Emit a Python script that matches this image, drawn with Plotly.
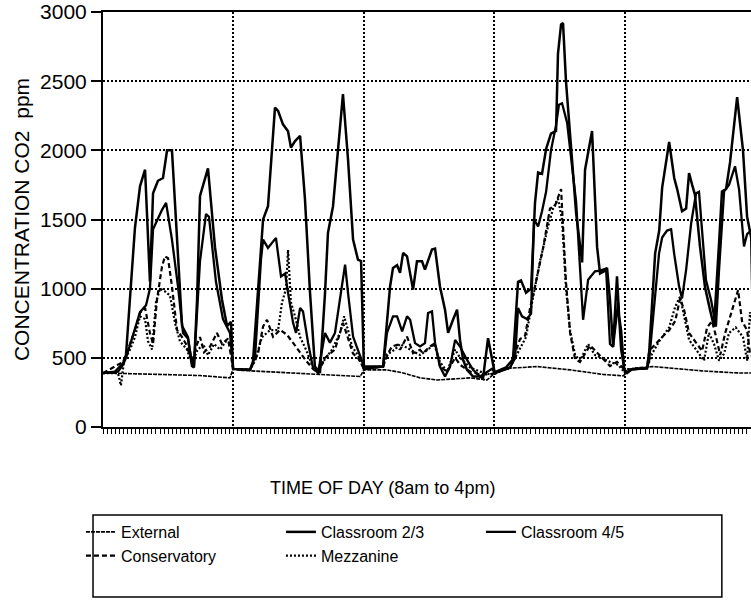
import plotly.graph_objects as go

# ---- data: time in hours from start (five school days, 8 hours each), CO2 ppm ----
EXT_T = [0.00, 1.66, 3.50, 5.95, 7.79, 7.98, 8.40, 10.25, 12.09, 13.92, 15.77, 16.01,
         17.42, 18.41, 19.45, 20.49, 21.29, 22.52, 23.56, 24.05, 24.97, 26.63, 28.65,
         30.67, 31.90, 32.51, 33.74, 34.79, 36.81, 38.90, 39.88]
EXT_V = [391, 385, 380, 372, 355, 420, 410, 400, 390, 375, 365, 413,
         413, 391, 355, 340, 345, 355, 340, 390, 425, 437, 413,
         380, 370, 425, 437, 425, 405, 391, 390]

C23_T = [0.00, 0.74, 1.23, 1.41, 1.96, 2.27, 2.58, 2.88, 3.07, 3.37, 3.68, 3.93, 4.23, 4.54,
         4.85, 5.21, 5.46, 5.58, 5.77, 5.95, 6.26, 6.44, 6.87, 7.30, 7.61, 7.85, 7.98,
         9.02, 9.20, 9.51, 9.82, 10.12, 10.31, 10.55, 10.74, 11.04, 11.35, 11.53, 11.78, 12.09,
         12.39, 12.70, 13.00, 13.31, 13.62, 13.80, 14.11, 14.42, 14.72, 15.03, 15.34, 15.64, 15.83, 16.01,
         16.07, 17.18, 17.61, 17.79, 18.04, 18.22, 18.41, 18.65, 19.02, 19.26, 19.57, 19.75, 20.18,
         20.37, 20.67, 20.98, 21.17, 21.47, 21.72, 21.90, 22.09, 22.33, 22.70, 23.13, 23.31, 23.62, 23.86, 24.05,
         24.11, 24.72, 25.15, 25.46, 25.64, 25.95, 26.26, 26.50, 26.69, 26.93, 27.18, 27.48, 27.79,
         27.91, 28.10, 28.22, 28.40, 28.71, 29.02, 29.39, 29.57, 30.00, 30.31, 30.49, 30.80, 30.92,
         31.10, 31.29, 31.53, 31.66, 31.78, 31.96,
         32.15, 32.45, 33.37, 33.50, 33.68, 33.87, 34.12, 34.30, 34.73, 35.04, 35.22, 35.52, 35.77,
         35.95, 36.14, 36.31, 36.62, 36.93, 37.24, 37.48, 37.79, 37.97, 38.22, 38.46, 38.90, 39.26,
         39.51, 39.69, 39.88]
C23_V = [390, 400, 460, 520, 1440, 1740, 1860, 1050, 1690, 1780, 1800, 2000, 2000, 1350,
         730, 650, 440, 430, 920, 1670, 1810, 1870, 1300, 920, 730, 760, 420,
         413, 473, 970, 1500, 1596, 1935, 2309, 2285, 2188, 2138, 2019, 2067, 2104,
         1645, 970, 437, 391, 970, 1404, 1596, 2007, 2406, 1935, 1355, 1210, 1200, 413,
         437, 437, 1016, 1150, 1170, 1114, 1259, 1234, 993, 1198, 1198, 1138, 1283,
         1290, 1016, 848, 680, 775, 848, 630, 485, 413, 365, 365, 350, 642, 485, 380,
         400, 430, 490, 1050, 1060, 970, 1000, 1620, 1840, 1830, 2010, 2120, 2140,
         2700, 2910, 2920, 2500, 2000, 1550, 1190, 1860, 2140, 1300, 1110, 1130, 1150,
         920, 580, 1090, 800, 700, 420,
         390, 417, 425, 530, 845, 1255, 1420, 1730, 2060, 1800, 1720, 1560, 1580,
         1836, 1750, 1680, 1305, 1010, 845, 726, 1329, 1703, 1720, 1909, 2385, 2000,
         1520, 1400, 1300]

C45_T = [0.00, 0.92, 1.23, 1.41, 1.66, 1.96, 2.27, 2.64, 2.88, 3.07, 3.62, 3.87, 4.23,
         4.60, 4.91, 5.21, 5.46, 5.58, 5.95, 6.32, 6.50, 6.93, 7.36, 7.79, 7.98,
         9.02, 9.33, 9.69, 9.82, 10.12, 10.61, 10.92, 11.17, 11.35, 11.66, 11.84, 12.09, 12.27,
         12.58, 12.88, 13.19, 13.62, 13.92, 14.23, 14.54, 14.85, 15.03, 15.34, 15.64, 15.95, 16.07,
         17.18, 17.42, 17.79, 18.04, 18.35, 18.65, 18.84, 19.14, 19.45, 19.75, 19.94, 20.18,
         20.37, 20.67, 20.98, 21.29, 21.60, 21.90, 22.33, 22.70, 23.13, 23.56, 23.86, 24.05,
         24.97, 25.28, 25.46, 25.70, 26.01, 26.26, 26.44, 26.69, 26.93, 27.18, 27.48, 27.79, 27.97,
         28.16, 28.47, 29.02, 29.45, 29.76, 30.18, 30.49, 30.86, 31.10, 31.29, 31.60, 31.78, 32.02,
         32.45, 33.37, 33.50, 34.11, 34.30, 34.60, 34.85, 35.04, 35.34, 35.52, 35.77, 36.08, 36.38,
         36.56, 36.75, 36.99, 37.30, 37.60, 37.79, 38.10, 38.40, 38.77, 39.02, 39.32, 39.51, 39.75, 39.88]
C45_V = [390, 400, 450, 500, 594, 703, 830, 880, 1000, 1430, 1570, 1620, 1355,
         1016, 680, 640, 460, 440, 1200, 1540, 1520, 1050, 780, 680, 420,
         413, 509, 1210, 1355, 1295, 1367, 1089, 1110, 970, 753, 680, 860, 835,
         608, 428, 391, 680, 610, 680, 920, 1174, 970, 654, 556, 460, 420,
         437, 680, 800, 800, 691, 800, 775, 606, 582, 606, 824, 836,
         606, 437, 365, 437, 630, 582, 485, 413, 365, 400, 420, 390,
         430, 500, 860, 800, 780, 820, 1500, 1450, 1560, 1700, 2000, 2180, 2330,
         2340, 2200, 1630, 775, 1065, 1125, 1130, 1145, 600, 580, 900, 560, 390,
         417, 425, 480, 1255, 1370, 1420, 1430, 1250, 1015, 930, 1136, 1474, 1690,
         1700, 1420, 1060, 918, 726, 1136, 1703, 1750, 1885, 1716, 1305, 1395, 1420, 600]

CONS_T = [0.00, 1.23, 1.53, 1.96, 2.27, 2.58, 2.88, 3.07, 3.31, 3.62, 3.80, 3.99, 4.23,
          4.54, 4.85, 5.09, 5.46, 5.77, 5.95, 6.20, 6.56, 6.99, 7.30, 7.67, 7.98,
          9.02, 9.51, 9.82, 10.06, 10.43, 10.86, 11.29, 11.66, 12.09, 12.45, 12.88, 13.19,
          13.62, 14.23, 14.72, 15.03, 15.34, 15.64, 16.01,
          17.18, 17.49, 17.73, 18.04, 18.22, 18.65, 19.02, 19.45, 19.63, 20.06, 20.37, 20.67,
          21.11, 21.60, 21.90, 22.52, 23.13, 23.74, 24.05,
          24.97, 25.15, 25.58, 25.89, 26.20, 26.56, 26.99, 27.42, 27.73, 28.10, 28.22, 28.40,
          28.65, 28.96, 29.26, 29.88, 30.25, 30.67, 31.10, 31.53, 31.96,
          32.45, 33.37, 33.50, 33.87, 34.30, 34.73, 35.10, 35.40, 35.65, 35.95, 36.26, 36.75,
          37.06, 37.36, 37.55, 37.86, 38.17, 38.46, 38.96, 39.20, 39.51, 39.69, 39.88]
CONS_V = [390, 470, 560, 700, 826, 860, 680, 600, 920, 1160, 1234, 1220, 1016,
          703, 650, 600, 470, 600, 650, 540, 580, 680, 600, 640, 420,
          413, 530, 727, 775, 652, 703, 666, 608, 536, 480, 420, 391,
          500, 560, 753, 640, 530, 500, 420,
          437, 534, 582, 594, 558, 654, 534, 558, 534, 582, 606, 437,
          400, 500, 450, 400, 380, 380, 390,
          430, 490, 635, 660, 860, 1050, 1290, 1580, 1600, 1720, 1410, 1050,
          682, 490, 470, 590, 545, 490, 440, 470, 420,
          417, 425, 550, 600, 650, 700, 765, 930, 845, 680, 630, 550,
          720, 765, 680, 520, 680, 790, 990, 765, 700, 530, 500]

MEZZ_T = [0.00, 0.92, 1.10, 1.29, 1.66, 1.96, 2.27, 2.58, 2.76, 3.01, 3.25, 3.50, 3.80,
          4.11, 4.42, 4.72, 5.15, 5.46, 5.77, 6.14, 6.44, 6.81, 7.18, 7.55, 7.85, 7.98,
          9.02, 9.33, 9.75, 10.25, 10.74, 10.98, 11.23, 11.35, 11.53, 11.78, 12.09, 12.45,
          12.82, 13.19, 13.56, 14.05, 14.54, 14.79, 15.03, 15.28, 15.64, 15.95,
          17.18, 17.36, 17.91, 18.22, 18.84, 19.45, 19.94, 20.31, 20.67, 21.11, 21.60, 21.90,
          22.52, 23.13, 23.74, 24.05,
          24.97, 25.15, 25.58, 25.95, 26.32, 26.81, 27.30, 27.61, 27.91, 28.16, 28.40, 28.65,
          28.96, 29.26, 29.76, 30.18, 30.61, 31.10, 31.60, 31.96,
          32.45, 33.37, 33.68, 34.12, 34.73, 35.10, 35.40, 35.95, 36.56, 36.87, 37.17, 37.48,
          37.79, 38.10, 38.40, 38.81, 39.26, 39.51, 39.69, 39.88]
MEZZ_V = [390, 390, 300, 480, 560, 650, 800, 780, 620, 560, 900, 1000, 980,
          950, 750, 620, 560, 460, 550, 600, 520, 600, 560, 620, 600, 420,
          413, 480, 650, 700, 700, 900, 1000, 1280, 900, 800, 650, 560,
          450, 400, 480, 560, 680, 800, 700, 580, 520, 430,
          437, 520, 560, 600, 560, 520, 560, 600, 470, 400, 560, 500,
          430, 400, 380, 390,
          430, 470, 560, 650, 900, 1200, 1450, 1580, 1650, 1500, 1000, 700,
          520, 480, 600, 520, 500, 470, 450, 400,
          417, 425, 530, 620, 720, 870, 943, 630, 530, 480, 680, 600,
          480, 530, 680, 720, 650, 480, 830, 700]

Y_TICKS = [0, 500, 1000, 1500, 2000, 2500, 3000]
Y_TITLE = "CONCENTRATION CO2\u00a0 ppm"
X_TITLE = "TIME OF DAY (8am to 4pm)"

FONT = "Liberation Sans, Arial, Helvetica, sans-serif"

series = [
    ("External", EXT_T, EXT_V, dict(width=1.6, dash="4px,1px")),
    ("Classroom 2/3", C23_T, C23_V, dict(width=2.5, dash="solid")),
    ("Classroom 4/5", C45_T, C45_V, dict(width=2.3, dash="solid")),
    ("Conservatory", CONS_T, CONS_V, dict(width=2.2, dash="5px,3px")),
    ("Mezzanine", MEZZ_T, MEZZ_V, dict(width=2.2, dash="2px,2px")),
]

fig = go.Figure()
for name, t, v, ln in series:
    fig.add_trace(go.Scatter(x=t, y=v, mode="lines", name=name,
                             line=dict(color="black", **ln)))

fig.update_layout(
    width=751, height=600,
    margin=dict(l=103, r=0, t=12, b=173, autoexpand=False),
    paper_bgcolor="white", plot_bgcolor="white",
    font=dict(family=FONT, color="black"),
    showlegend=True,
    legend=dict(orientation="h", x=-0.034, xanchor="left", y=-0.212, yanchor="top",
                font=dict(size=16, family=FONT, color="black"),
                bgcolor="rgba(0,0,0,0)", borderwidth=0,
                itemwidth=30, entrywidth=155, entrywidthmode="pixels",
                traceorder="normal"),
)

fig.update_xaxes(range=[0, 39.75], automargin=False, showline=True, linecolor="black",
                 linewidth=2, mirror=True, ticks="outside", ticklen=5, tickwidth=1,
                 tickcolor="black", tick0=0, dtick=8, showticklabels=False,
                 showgrid=True, gridcolor="black", gridwidth=1.5, griddash="2px,2px",
                 zeroline=False,
                 minor=dict(dtick=0.25, ticks="outside", ticklen=5, tickwidth=1,
                            tickcolor="black", showgrid=False))

fig.update_yaxes(range=[0, 3000], automargin=False, tickvals=Y_TICKS, showline=True,
                 linecolor="black", linewidth=2, ticks="outside", ticklen=10, tickwidth=2,
                 tickcolor="black",
                 tickfont=dict(size=21, family=FONT, color="black"),
                 showgrid=True, gridcolor="black", gridwidth=1.5, griddash="2px,2px",
                 zeroline=False,
                 title=dict(text=Y_TITLE, font=dict(size=21, family=FONT, color="black"),
                            standoff=5))

fig.add_annotation(text=X_TITLE, xref="paper", yref="paper", x=0.4306, y=-0.147,
                   xanchor="center", yanchor="middle", showarrow=False,
                   font=dict(size=18, family=FONT, color="black"))

# legend frame
fig.add_shape(type="rect", xref="paper", yref="paper",
              x0=-0.0154, x1=0.955, y0=-0.4096, y1=-0.212,
              line=dict(color="black", width=1.5), fillcolor="rgba(0,0,0,0)")

# remove the default page margin so the figure sits at the window's top-left corner
fig.write_html("out.html", config={"displayModeBar": False},
               post_script="document.body.style.margin='0px';")
